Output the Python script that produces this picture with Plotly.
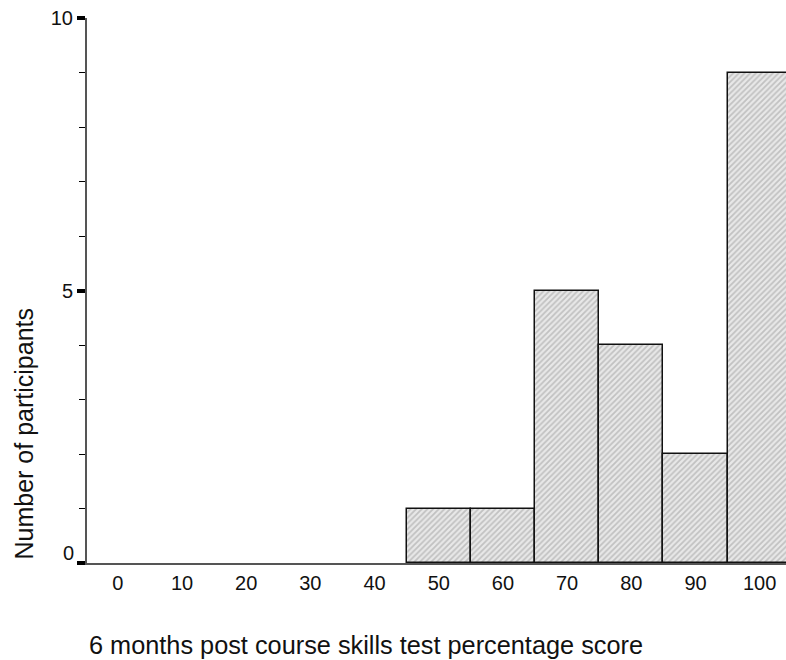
import plotly.graph_objects as go

# ---- data ----
scores = [0, 10, 20, 30, 40, 50, 60, 70, 80, 90, 100]
counts = [0, 0, 0, 0, 0, 1, 1, 5, 4, 2, 9]
bin_width = 10
y_major = [0, 5, 10]
x_title = "6 months post course skills test percentage score"
y_title = "Number of participants"

FONT = "Arial, Liberation Sans, sans-serif"

fig = go.Figure()
fig.add_trace(go.Bar(
    x=scores, y=counts, width=[bin_width] * len(scores),
    marker=dict(
        color="#e4e4e4",
        line=dict(color="#111111", width=[1.5 if c > 0 else 0 for c in counts]),
        pattern=dict(shape="/", bgcolor="#e8e8e8", fgcolor="#9a9a9a",
                     size=4, solidity=0.45),
    ),
    hoverinfo="skip", showlegend=False,
))

# horizontal dash tick marks below the x axis
for v in scores:
    fig.add_shape(type="rect", xref="x", yref="y",
                  xsizemode="pixel", ysizemode="pixel",
                  xanchor=v, yanchor=0, x0=-4, x1=4, y0=-3.5, y1=-6.5,
                  fillcolor="#000000", line=dict(width=0), layer="above")

fig.update_layout(
    width=786, height=660,
    margin=dict(l=87, r=0, t=18, b=97),
    plot_bgcolor="white", paper_bgcolor="white",
    font=dict(family=FONT, size=20, color="#111111"),
    bargap=0,
)
fig.update_xaxes(
    range=[-4.8, 104.1], tickvals=scores, ticktext=[str(s) for s in scores],
    ticks="", showgrid=False, zeroline=False,
    showline=True, linecolor="#555555", linewidth=2, layer="above traces",
    ticklabelstandoff=1,
    tickfont=dict(size=20),
)
fig.update_yaxes(
    range=[0, 10], tickvals=y_major, ticktext=["", "5", "10"],
    ticks="outside", ticklen=8, tickwidth=4, tickcolor="#000000",
    minor=dict(dtick=1, ticks="outside", ticklen=6, tickwidth=1, tickcolor="#000000"),
    showgrid=False, zeroline=False,
    showline=True, linecolor="#555555", linewidth=2,
    tickfont=dict(size=20),
)
# "0" label sits slightly above its tick in the original
fig.add_annotation(x=0, xref="paper", y=y_major[0], yref="y", text="0",
                   showarrow=False, xanchor="right", yanchor="middle",
                   xshift=-11, yshift=10, font=dict(size=20))
fig.add_annotation(x=0, xref="paper", y=0.5, yref="paper", text=y_title,
                   showarrow=False, textangle=-90, xanchor="center",
                   yanchor="middle", xshift=-64, yshift=-143,
                   font=dict(size=25))
fig.add_annotation(x=0, xref="paper", y=0, yref="paper", text=x_title,
                   showarrow=False, xanchor="center", yanchor="middle",
                   xshift=279, yshift=-82, font=dict(size=25.3))

fig.write_html("out.html", config={"displayModeBar": False},
               post_script="document.body.style.margin='0';document.body.style.overflow='hidden';")
